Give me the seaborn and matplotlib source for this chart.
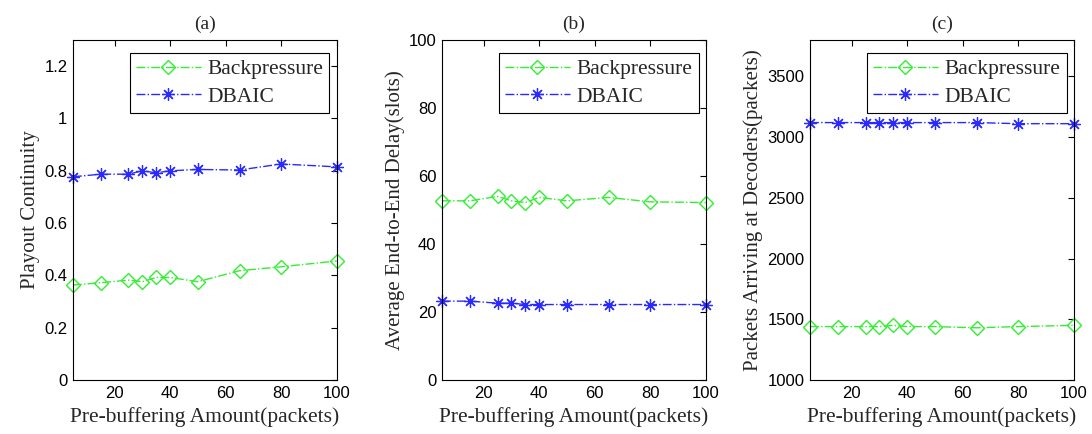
import matplotlib
matplotlib.use("Agg")
import matplotlib.pyplot as plt
import seaborn as sns
import pandas as pd

# data
buffer_amount = [5, 15, 25, 30, 35, 40, 50, 65, 80, 100]

continuity_bp = [0.363, 0.372, 0.382, 0.376, 0.392, 0.392, 0.376, 0.418, 0.433, 0.455]
continuity_dbaic = [0.777, 0.787, 0.787, 0.800, 0.792, 0.800, 0.805, 0.803, 0.826, 0.815]

delay_bp = [52.7, 52.7, 54.0, 52.7, 52.2, 53.7, 52.7, 53.7, 52.4, 52.2]
delay_dbaic = [23.2, 23.2, 22.6, 22.6, 22.2, 22.2, 22.2, 22.2, 22.2, 22.2]

arrive_bp = [1440, 1440, 1440, 1440, 1450, 1440, 1440, 1430, 1440, 1450]
arrive_dbaic = [3120, 3120, 3120, 3120, 3120, 3120, 3120, 3120, 3111, 3111]

panel_titles = ["(a)", "(b)", "(c)"]
y_labels = ["Playout Continuity", "Average End-to-End Delay(slots)",
            "Packets Arriving at Decoders(packets)"]
x_label = "Pre-buffering Amount(packets)"
series_names = ["Backpressure", "DBAIC"]

sns.set_style("white")
plt.rcParams["font.family"] = ["Liberation Sans", "DejaVu Sans"]

serif = "Liberation Serif"
green = "#33ee33"
blue = "#2a2aff"

fig = plt.figure(figsize=(10.92, 4.34), dpi=100)
lefts = [0.0668, 0.4048, 0.7418]
axes = [fig.add_axes([l, 0.1244, 0.2415, 0.7834]) for l in lefts]

panels = [
    (continuity_bp, continuity_dbaic, (0, 1.3), [0, 0.2, 0.4, 0.6, 0.8, 1, 1.2], ["0", "0.2", "0.4", "0.6", "0.8", "1", "1.2"]),
    (delay_bp, delay_dbaic, (0, 100), [0, 20, 40, 60, 80, 100], None),
    (arrive_bp, arrive_dbaic, (1000, 3800), [1000, 1500, 2000, 2500, 3000, 3500], None),
]

for i, (ax, (bp, db, ylim, yticks, ylabs)) in enumerate(zip(axes, panels)):
    df = pd.DataFrame({"x": buffer_amount, "bp": bp, "db": db})
    sns.lineplot(data=df, x="x", y="bp", ax=ax, color=green, linestyle="-.", lw=1,
                 marker="D", markersize=7.5, markerfacecolor="none",
                 markeredgecolor=green, markeredgewidth=1, label=series_names[0],
                 clip_on=False)
    sns.lineplot(data=df, x="x", y="db", ax=ax, color=blue, linestyle="-.", lw=1,
                 marker=(8, 2, 0), markersize=9, markeredgecolor=blue,
                 markeredgewidth=0.9, label=series_names[1], clip_on=False)
    ax.set_xlim(5, 100)
    ax.set_ylim(*ylim)
    ax.set_xticks([20, 40, 60, 80, 100])
    ax.set_yticks(yticks)
    if ylabs:
        ax.set_yticklabels(ylabs)
    ax.tick_params(direction="in", length=4, width=0.8, top=True, right=True,
                   labelsize=12, colors="black", pad=4)
    for s in ax.spines.values():
        s.set_color("black")
        s.set_linewidth(0.8)
    ax.set_title(panel_titles[i], family=serif, fontsize=14, pad=8)
    ax.set_xlabel(x_label, family=serif, fontsize=15.5, labelpad=5)
    ax.set_ylabel(y_labels[i], family=serif, fontsize=15, labelpad=3)
    leg = ax.legend(loc="upper right", bbox_to_anchor=(0.989, 0.975),
                    borderaxespad=0.2,
                    prop={"family": serif, "size": 15.5}, frameon=True,
                    fancybox=False, framealpha=1, edgecolor="black",
                    handlelength=3.0, borderpad=0.3, labelspacing=0.35,
                    handletextpad=0.3)
    leg.get_frame().set_linewidth(0.8)

fig.savefig("out.png", dpi=100)
